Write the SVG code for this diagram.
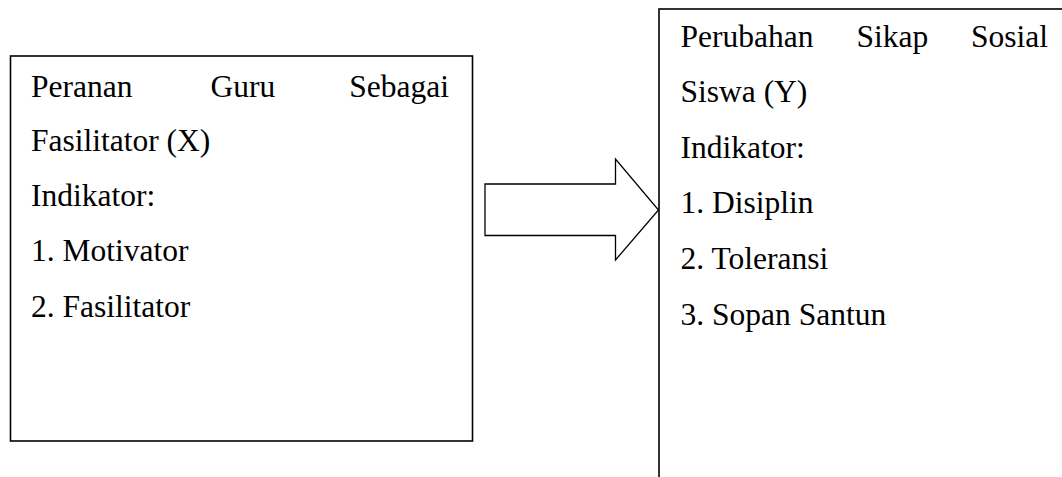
<svg xmlns="http://www.w3.org/2000/svg" width="1062" height="477" viewBox="0 0 1062 477">
<style>
.box{fill:#fff;stroke:#000;stroke-width:1.6}
.t{font-family:"Liberation Serif","Times New Roman",serif;font-size:31.5px;fill:#000}
.arrow{fill:#fff;stroke:#000;stroke-width:1.3;stroke-linejoin:miter}
</style>
<rect x="0" y="0" width="1062" height="477" fill="#fff"/>
<g id="node-x">
<rect class="box" x="10.5" y="56" width="462" height="385"/>
<text class="t"><tspan x="31" y="97">Peranan</tspan><tspan x="210.5" y="97">Guru</tspan><tspan x="449" y="97" text-anchor="end">Sebagai</tspan></text>
<text class="t" x="31" y="151">Fasilitator (X)</text>
<text class="t" x="31" y="206">Indikator:</text>
<text class="t" x="31" y="261">1. Motivator</text>
<text class="t" x="31" y="317">2. Fasilitator</text>
</g>
<g id="node-y">
<rect class="box" x="659" y="9" width="420" height="480"/>
<text class="t"><tspan x="680.5" y="47">Perubahan</tspan><tspan x="856.5" y="47">Sikap</tspan><tspan x="1048" y="47" text-anchor="end">Sosial</tspan></text>
<text class="t" x="680.5" y="102">Siswa (Y)</text>
<text class="t" x="680.5" y="158">Indikator:</text>
<text class="t" x="680.5" y="213">1. Disiplin</text>
<text class="t" x="680.5" y="269">2. Toleransi</text>
<text class="t" x="680.5" y="325">3. Sopan Santun</text>
</g>
<g id="connectors">
<polygon class="arrow" points="485,184 615.5,184 615.5,159 658.5,210 615.5,260 615.5,235.5 485,235.5"/>
</g>
</svg>
